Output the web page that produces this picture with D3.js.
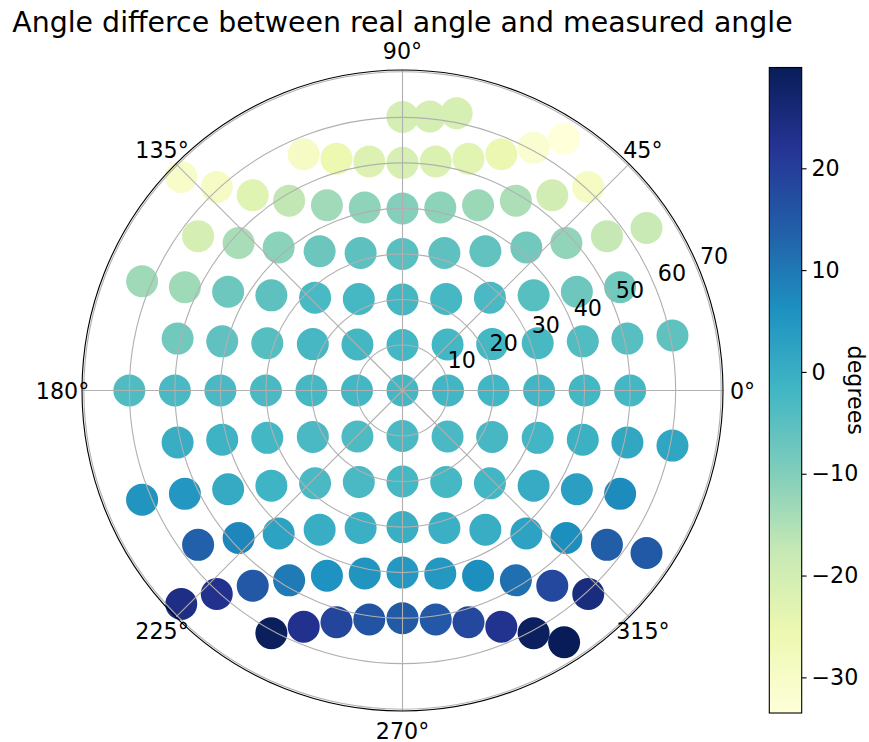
<!DOCTYPE html>
<html><head><meta charset="utf-8">
<script src="https://cdn.jsdelivr.net/npm/d3@7"></script>
<style>
body{margin:0;background:#fff;}
svg{display:block;font-family:"DejaVu Sans",sans-serif;}
</style></head><body>
<svg id="chart" width="869" height="742"></svg>
<script>
// ---- DATA (measured point positions as east/north components, and angle difference in degrees) ----
const xVals = [
  0, 6.0, 11.9,
  -21.7, -14.5, -7.3, 0, 7.3, 14.5, 21.7, 28.8, 35.5,
  -48.6, -40.8, -32.9, -24.9, -16.6, -8.3, 0, 8.3, 16.6, 24.9, 32.9, 40.8,
  -44.9, -36.0, -27.2, -18.2, -9.2, 0, 9.2, 18.2, 27.2, 36.0, 44.9, 53.6,
  -57.2, -47.8, -38.3, -28.8, -19.2, -9.6, 0, 9.6, 19.2, 28.8, 38.3, 47.8,
  -49.4, -39.6, -29.7, -19.7, -9.9, 0, 9.9, 19.7, 29.7, 39.6, 49.4, 59.3,
  -60, -50, -40, -30, -20, -10, 0, 10, 20, 30, 40, 50,
  -49.4, -39.6, -29.7, -19.7, -9.9, 0, 9.9, 19.7, 29.7, 39.6, 49.4, 59.3,
  -57.2, -47.8, -38.3, -28.8, -19.2, -9.6, 0, 9.6, 19.2, 28.8, 38.3, 47.8,
  -44.9, -36.0, -27.2, -18.2, -9.2, 0, 9.2, 18.2, 27.2, 36.0, 44.9, 53.6,
  -48.6, -40.8, -32.9, -24.9, -16.6, -8.3, 0, 8.3, 16.6, 24.9, 32.9, 40.8,
  -28.8, -21.7, -14.5, -7.3, 0, 7.3, 14.5, 21.7, 28.8, 35.5
];
const yVals = [
  60.1, 60.2, 60.9,
  51.9, 50.9, 50.3, 50.0, 50.3, 50.9, 51.9, 53.3, 55.3,
  46.9, 44.7, 42.9, 41.7, 40.7, 40.2, 40.0, 40.2, 40.7, 41.7, 42.9, 44.7,
  33.9, 32.4, 31.4, 30.6, 30.2, 30.0, 30.2, 30.6, 31.4, 32.4, 33.9, 35.7,
  24.0, 22.7, 21.7, 20.9, 20.4, 20.1, 20.0, 20.1, 20.4, 20.9, 21.7, 22.7,
  11.4, 10.8, 10.4, 10.2, 10.1, 10.0, 10.1, 10.2, 10.4, 10.8, 11.4, 12.1,
  0, 0, 0, 0, 0, 0, 0, 0, 0, 0, 0, 0,
  -11.4, -10.8, -10.4, -10.2, -10.1, -10.0, -10.1, -10.2, -10.4, -10.8, -11.4, -12.1,
  -24.0, -22.7, -21.7, -20.9, -20.4, -20.1, -20.0, -20.1, -20.4, -20.9, -21.7, -22.7,
  -33.9, -32.4, -31.4, -30.6, -30.2, -30.0, -30.2, -30.6, -31.4, -32.4, -33.9, -35.7,
  -46.9, -44.7, -42.9, -41.7, -40.7, -40.2, -40.0, -40.2, -40.7, -41.7, -42.9, -44.7,
  -53.3, -51.9, -50.9, -50.3, -50.0, -50.3, -50.9, -51.9, -53.3, -55.3
];
const diffVals = [
  -20.5, -20.3, -20.8,
  -29.5, -25.5, -22.3, -21.0, -21.8, -23.2, -25.3, -31.5, -33.5,
  -30.4, -29.5, -22.7, -17.1, -13.5, -11.4, -10.2, -11.3, -12.7, -14.7, -19.7, -29.0,
  -20.5, -14.3, -11.0, -7.4, -5.5, -4.9, -5.5, -6.0, -8.0, -11.8, -17.5, -18.0,
  -13.2, -13.3, -7.5, -5.5, -2.8, -2.5, -2.3, -2.4, -3.0, -4.8, -7.5, -7.9,
  -7.9, -5.7, -4.4, -2.6, -2.3, -2.2, -2.1, -2.2, -2.7, -3.8, -4.7, -5.8,
  -3.7, -3.0, -3.0, -2.9, -2.4, -2.2, -2.0, -1.9, -1.8, -1.9, -2.0, -2.1,
  0.1, -1.2, -2.2, -2.9, -3.5, -2.9, -3.0, -2.6, -1.9, -0.8, 1.4, 1.7,
  5.2, 4.8, 0.7, -1.4, -2.9, -3.0, -2.4, -2.5, -1.9, 0.5, 3.1, 7.0,
  13.7, 7.8, 2.5, 0.1, -0.4, -0.3, -0.4, 0.1, 2.5, 6.5, 14.0, 15.0,
  24.1, 22.9, 15.2, 9.7, 6.0, 5.3, 4.6, 4.6, 6.5, 11.2, 18.2, 24.9,
  29.2, 22.9, 18.8, 16.1, 14.8, 15.2, 18.2, 22.7, 28.8, 29.9
];
const rTicks = [10, 20, 30, 40, 50, 60, 70];
const thetaTicks = [0, 45, 90, 135, 180, 225, 270, 315];
const cbTicks = [-30, -20, -10, 0, 10, 20];
const titleText = "Angle differce between real angle and measured angle";
const cbLabel = "degrees";
const cmapColors = ["#ffffd9","#edf8b1","#c7e9b4","#7fcdbb","#41b6c4","#1d91c0","#225ea8","#253494","#081d58"];

// ---- LAYOUT ----
const W = 869, H = 742;
const cx = 402.5, cy = 390.5, R = 320.5, rMax = 70.4;
const cbX = 769.3, cbW = 32.4, cbTop = 67.5, cbBottom = 713;
const fs = 22.2;

const svg = d3.select("#chart");
svg.append("rect").attr("width", W).attr("height", H).attr("fill", "#fff");

const rScale = d3.scaleLinear().domain([0, rMax]).range([0, R]);
const aScale = d3.scaleLinear().domain([0, 360]).range([0, 2 * Math.PI]);
const [vmin, vmax] = d3.extent(diffVals);
const color = d3.scaleLinear()
  .domain(cmapColors.map((c, k) => vmin + k / 8 * (vmax - vmin)))
  .range(cmapColors).interpolate(d3.interpolateRgb).clamp(true);

const g = svg.append("g").attr("transform", `translate(${cx},${cy})`);

const pts = xVals.map((x, k) => ({
  theta: Math.atan2(yVals[k], x) * 180 / Math.PI,
  rad: Math.hypot(x, yVals[k]),
  v: diffVals[k]
}));

g.selectAll("circle.pt").data(pts).join("circle").attr("class", "pt")
  .attr("cx", d => rScale(d.rad) * Math.cos(aScale(d.theta)))
  .attr("cy", d => -rScale(d.rad) * Math.sin(aScale(d.theta)))
  .attr("r", 16)
  .attr("fill", d => color(d.v));

// grid
g.selectAll("circle.ring").data(rTicks).join("circle").attr("class", "ring")
  .attr("r", d => rScale(d)).attr("fill", "none")
  .attr("stroke", "#b0b0b0").attr("stroke-width", 1.1);
g.selectAll("line.spoke").data(thetaTicks).join("line").attr("class", "spoke")
  .attr("x1", 0).attr("y1", 0)
  .attr("x2", d => R * Math.cos(aScale(d)))
  .attr("y2", d => -R * Math.sin(aScale(d)))
  .attr("stroke", "#b0b0b0").attr("stroke-width", 1.1);

// spine
g.append("circle").attr("r", R).attr("fill", "none").attr("stroke", "#000").attr("stroke-width", 1.1);

// theta labels
g.selectAll("text.tl").data(thetaTicks).join("text").attr("class", "tl")
  .attr("x", d => 340 * Math.cos(aScale(d)))
  .attr("y", d => -340 * Math.sin(aScale(d)))
  .attr("text-anchor", "middle").attr("dominant-baseline", "central")
  .attr("font-size", fs).attr("fill", "#000")
  .text(d => d + "°");

// radial labels at 22.5°
const rlAng = aScale(22.5);
g.selectAll("text.rl").data(rTicks).join("text").attr("class", "rl")
  .attr("x", d => rScale(d) * Math.cos(rlAng) + 3)
  .attr("y", d => -rScale(d) * Math.sin(rlAng) - 5)
  .attr("font-size", fs).attr("fill", "#000")
  .text(d => d);

// title
svg.append("text").attr("x", cx).attr("y", 32.3).attr("text-anchor", "middle")
  .attr("font-size", 28.4).attr("fill", "#000").text(titleText);

// colorbar
const defs = svg.append("defs");
const grad = defs.append("linearGradient").attr("id", "cbgrad")
  .attr("x1", 0).attr("y1", 1).attr("x2", 0).attr("y2", 0);
grad.selectAll("stop").data(cmapColors).join("stop")
  .attr("offset", (c, k) => k / 8).attr("stop-color", c => c);
svg.append("rect").attr("x", cbX).attr("y", cbTop).attr("width", cbW).attr("height", cbBottom - cbTop)
  .attr("fill", "url(#cbgrad)");
svg.append("rect").attr("x", cbX).attr("y", cbTop).attr("width", cbW).attr("height", cbBottom - cbTop)
  .attr("fill", "none").attr("stroke", "#000").attr("stroke-width", 1.1);

const cbScale = d3.scaleLinear().domain([vmin, vmax]).range([cbBottom, cbTop]);
const cbAxis = svg.append("g").attr("transform", `translate(${cbX + cbW},0)`)
  .call(d3.axisRight(cbScale).tickValues(cbTicks).tickSize(4.9).tickPadding(4.9));
cbAxis.select(".domain").remove();
cbAxis.selectAll("line").attr("stroke", "#000").attr("stroke-width", 1.1);
cbAxis.selectAll("text").attr("font-size", fs).attr("fill", "#000")
  .attr("font-family", "DejaVu Sans");

svg.append("text").attr("transform", `translate(848,${(cbTop + cbBottom) / 2}) rotate(90)`)
  .attr("text-anchor", "middle").attr("font-size", fs).attr("fill", "#000").text(cbLabel);
</script>
</body></html>
